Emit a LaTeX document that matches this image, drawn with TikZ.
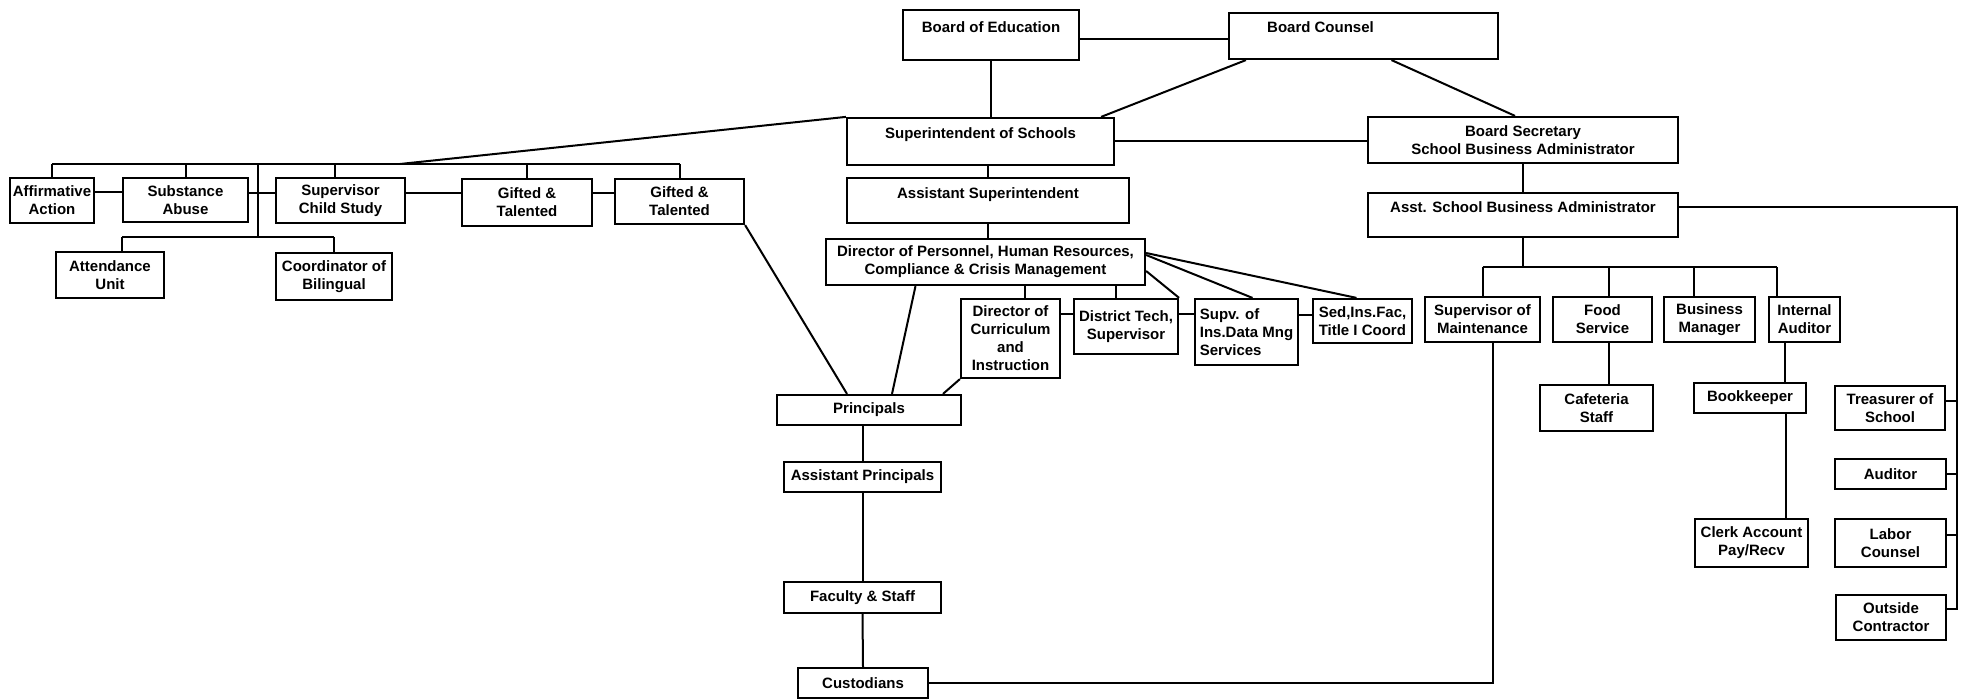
\documentclass[tikz,border=0pt]{standalone}
\usepackage{fontspec}
\setmainfont{Liberation Sans}
\usetikzlibrary{calc}

\begin{document}
\begin{tikzpicture}[x=0.5pt, y=-0.5pt, font=\fontsize{7.5}{9}\selectfont\bfseries,
    box/.style={draw, line width=1.1pt, inner sep=1.5pt, align=center},
    tall/.style={text height=5.4pt, text depth=#1},
    link/.style={line width=1pt}]
  \useasboundingbox (0,0) rectangle (1965,699);
  % single line boxes, text near the top
  \foreach \n/\xa/\ya/\xb/\yb/\d/\txt in {boe/903/10/1079/60/8pt/Board of Education,
      bc/1229/13/1498/59/9pt/{Board Counsel\hspace*{43pt}},
      supt/847/118/1114/165/8.5pt/Superintendent of Schools,
      asup/847/178/1129/223/7.5pt/Assistant Superintendent,
      asba/1368/193/1678/237/8pt/Asst. School Business Administrator} {
    \node[box, tall=\d, minimum width={(\xb-\xa)*0.5pt}, minimum height={(\yb-\ya)*0.5pt}]
      (\n) at ({(\xa+\xb)/2},{(\ya+\yb)/2}) {\txt};
  }
  \foreach \n/\xa/\ya/\xb/\yb/\txt in {bsec/1368/117/1678/163/{Board Secretary\\School Business Administrator},
      dirp/826/239/1145/285/{Director of Personnel, Human Resources,\\Compliance \& Crisis Management},
      aa/10/178/94/223/{Affirmative\\Action}, sa/123/178/248/222/{Substance\\Abuse},
      scs/276/178/405/223/{Supervisor\\Child Study}, gt1/462/179/592/226/{Gifted \&\\Talented},
      gt2/615/179/744/224/{Gifted \&\\Talented}, att/56/252/164/298/{Attendance\\Unit},
      cob/276/253/392/300/{Coordinator of\\Bilingual},
      dcur/961/299/1060/378/{Director of\\Curriculum\\and\\Instruction},
      dtech/1074/299/1178/354/{District Tech,\\Supervisor},
      smaint/1425/297/1540/342/{Supervisor of\\Maintenance}, food/1553/297/1652/342/{Food\\Service},
      bmgr/1664/297/1755/342/{Business\\Manager}, iaud/1769/297/1840/342/{Internal\\Auditor},
      caf/1540/385/1653/431/{Cafeteria\\Staff}, bkp/1694/383/1806/413/Bookkeeper,
      clerk/1695/519/1808/567/{Clerk Account\\Pay/Recv},
      treas/1835/386/1945/430/{Treasurer of\\School}, aud/1835/459/1946/489/Auditor,
      labor/1835/519/1946/567/{Labor\\Counsel}, outc/1836/595/1946/640/{Outside\\Contractor},
      princ/777/395/961/425/Principals, aprinc/784/462/941/492/Assistant Principals,
      fac/784/582/941/613/{Faculty \& Staff}, cust/798/668/928/698/Custodians} {
    \node[box, minimum width={(\xb-\xa)*0.5pt}, minimum height={(\yb-\ya)*0.5pt}]
      (\n) at ({(\xa+\xb)/2},{(\ya+\yb)/2}) {\txt};
  }
  \node[box, align=left, minimum width=51.5pt, minimum height=33pt] (supv) at (1246.5,332)
    {Supv. of\\Ins.Data Mng\\Services};
  \node[box, align=left, minimum width=49.5pt, minimum height=22pt] (sed) at (1362.5,321)
    {Sed,Ins.Fac,\\Title I Coord};

  % board and superintendent
  \draw[link] ([yshift=-2pt]boe.east) -- ([yshift=-2pt]boe.east -| bc.west);
  \draw[link] (boe.south) -- (boe.south |- supt.north);
  \draw[link] ([xshift=9pt]bc.south west) -- ([xshift=-7pt]supt.north east);
  \draw[link] ([xshift=14pt]bc.south) -- ([xshift=-4pt]bsec.north);
  \draw[link] (supt.east) -- (supt.east -| bsec.west);
  \draw[link] (asup.north) -- (asup.north |- supt.south);
  \draw[link] (asup.south) -- (asup.south |- dirp.north);
  \draw[link] (bsec.south) -- (asba.north);

  % business side
  \coordinate (rail) at (1957,207);
  \coordinate (bbus) at (1523,267);
  \draw[link] ([yshift=4pt]asba.east) -- ([yshift=4pt]asba.east -| rail)
    -- ([yshift=4pt]outc.east -| rail) -- ([yshift=4pt]outc.east);
  \foreach \n/\s in {treas/3.5pt, aud/0pt, labor/4pt}
    \draw[link] ([yshift=\s]\n.east) -- ([yshift=\s]\n.east -| rail);
  \draw[link] (asba.south) -- (bbus);
  \draw[link] (smaint.north |- bbus) -- ([xshift=-14pt]iaud.north |- bbus);
  \foreach \n/\s in {smaint/0pt, food/3pt, bmgr/-8pt, iaud/-14pt}
    \draw[link] ([xshift=\s]\n.north) -- ([xshift=\s]\n.north |- bbus);
  \draw[link] ([xshift=3pt]food.south) -- ([xshift=3pt]food.south |- caf.north);
  \draw[link] ([xshift=-10pt]iaud.south) -- ([xshift=-10pt]iaud.south |- bkp.north);
  \draw[link] ([xshift=18pt]bkp.south) -- ([xshift=18pt]bkp.south |- clerk.north);
  \draw[link] ([xshift=5pt]smaint.south) |- (cust.east);

  % director and schools
  \draw[link] ([xshift=7pt]dcur.north) -- ([xshift=7pt]dcur.north |- dirp.south);
  \draw[link] ([xshift=-5pt]dtech.north) -- ([xshift=-5pt]dtech.north |- dirp.south);
  \draw[link] ([yshift=-4.5pt]dirp.east) -- (dtech.north east);
  \draw[link] ([yshift=3.5pt]dirp.east) -- ([xshift=3pt]supv.north);
  \draw[link] ([yshift=4.5pt]dirp.east) -- ([xshift=-3pt]sed.north);
  \draw[link] ([yshift=6pt]dtech.west) -- ([yshift=6pt]dtech.west -| dcur.east);
  \draw[link] ([yshift=6pt]dtech.east) -- ([yshift=6pt]dtech.east -| supv.west);
  \draw[link] ([yshift=3pt]sed.west) -- ([yshift=3pt]sed.west -| supv.east);
  \draw[link] (gt2.south east) -- ([xshift=-11pt]princ.north);
  \draw[link] ([xshift=-35pt]dirp.south) -- ([xshift=11.5pt]princ.north);
  \draw[link] (dcur.south west) -- ([xshift=37pt]princ.north);
  \draw[link] (aprinc.north) -- (aprinc.north |- princ.south);
  \draw[link] (aprinc.south) -- (fac.north);
  \draw[link] (fac.south) -- (cust.north);

  % left group
  \coordinate (lbus) at (400,164);
  \coordinate (lsub) at (258,237);
  \draw[link] (supt.north west) -- (lbus);
  \draw[link] (aa.north |- lbus) -- (gt2.north |- lbus);
  \foreach \n/\s in {aa/0pt, sa/0pt, scs/-3pt, gt1/0pt, gt2/0pt}
    \draw[link] ([xshift=\s]\n.north) -- ([xshift=\s]\n.north |- lbus);
  \draw[link] (lsub |- lbus) -- (lsub);
  \draw[link] ([xshift=6pt]att.north |- lsub) -- (cob.north |- lsub);
  \draw[link] ([xshift=6pt]att.north) -- ([xshift=6pt]att.north |- lsub);
  \draw[link] (cob.north) -- (cob.north |- lsub);
  \foreach \a/\b/\s in {aa/sa/4pt, sa/scs/3.5pt, scs/gt1/3.5pt, gt1/gt2/4.5pt}
    \draw[link] ([yshift=\s]\a.east) -- ([yshift=\s]\a.east -| \b.west);
\end{tikzpicture}
\end{document}
